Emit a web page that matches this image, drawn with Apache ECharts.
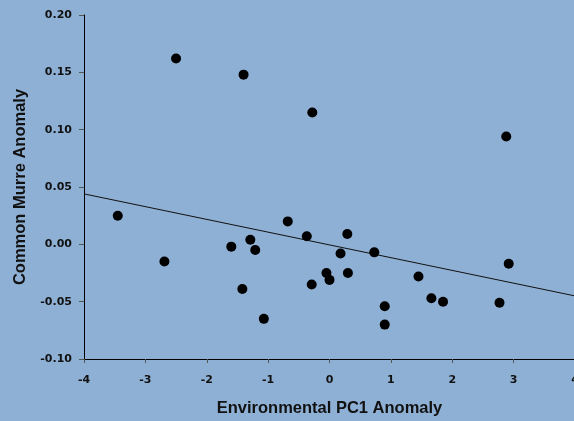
<!DOCTYPE html>
<html lang="en">
<head>
    <meta charset="UTF-8">
    <title>Common Murre vs Environmental PC1</title>
    <script type="text/javascript" src="https://cdn.jsdelivr.net/npm/echarts@6/dist/echarts.min.js"></script>
    <style>
        html, body { margin: 0; padding: 0; background: #8fb0d5; }
    </style>
</head>
<body>
<div id="main" style="height: 421px; width: 574px"></div>
<script>
    // points
    let pc1 = [-3.45, -2.69, -2.50, -1.40, -0.28, 2.88, 2.92, 1.45, 1.66, 1.85, 2.77, 0.90, 0.90,
        -1.60, -1.29, -1.21, -1.42, -1.07, -0.68, -0.37, 0.29, 0.18, 0.73, -0.05, 0.00, 0.30, -0.29];
    let murre = [0.025, -0.015, 0.162, 0.148, 0.115, 0.094, -0.017, -0.028, -0.047, -0.050, -0.051, -0.054, -0.070,
        -0.002, 0.004, -0.005, -0.039, -0.065, 0.020, 0.007, 0.009, -0.008, -0.007, -0.025, -0.031, -0.025, -0.035];
    // fitted line ends
    let fitX = [-4, 4];
    let fitY = [0.044, -0.045];

    let points = pc1.map((x, i) => [x, murre[i]]);
    let fit = fitX.map((x, i) => [x, fitY[i]]);

    let titleFont = 'Liberation Sans, Arial, sans-serif';
    let tickFont = 'DejaVu Sans, sans-serif';
    let myChart = echarts.init(document.getElementById('main'));
    let option = {
        backgroundColor: '#8fb0d5',
        animation: false,
        grid: {left: 84, top: 15, width: 491, height: 344, outerBoundsMode: 'none', containLabel: false},
        xAxis: {
            type: 'value', min: -4, max: 4, interval: 1,
            name: 'Environmental PC1 Anomaly', nameLocation: 'middle', nameGap: 41,
            nameTextStyle: {fontFamily: titleFont, fontWeight: 'bold', fontSize: 16.5, color: '#111'},
            axisLine: {onZero: false, lineStyle: {color: '#000', width: 1}},
            axisTick: {length: 4, lineStyle: {color: '#555'}},
            axisLabel: {fontFamily: tickFont, fontWeight: 'bold', fontSize: 11, color: '#111', margin: 16},
            splitLine: {show: false}
        },
        yAxis: {
            type: 'value', min: -0.10, max: 0.20, interval: 0.05,
            name: 'Common Murre Anomaly', nameLocation: 'middle', nameGap: 54,
            nameTextStyle: {fontFamily: titleFont, fontWeight: 'bold', fontSize: 16.5, color: '#111'},
            axisLine: {show: true, onZero: false, lineStyle: {color: '#000', width: 1}},
            axisTick: {show: true, length: 5, lineStyle: {color: '#555'}},
            axisLabel: {fontFamily: tickFont, fontWeight: 'bold', fontSize: 11, color: '#111', margin: 12,
                formatter: v => v.toFixed(2)},
            splitLine: {show: false}
        },
        series: [{
            type: 'line',
            data: fit,
            showSymbol: false,
            lineStyle: {color: '#111', width: 1},
            z: 1
        }, {
            type: 'scatter',
            data: points,
            symbolSize: 10,
            itemStyle: {color: '#000', opacity: 1},
            z: 2
        }]
    };
    myChart.setOption(option);
</script>
</body>
</html>
